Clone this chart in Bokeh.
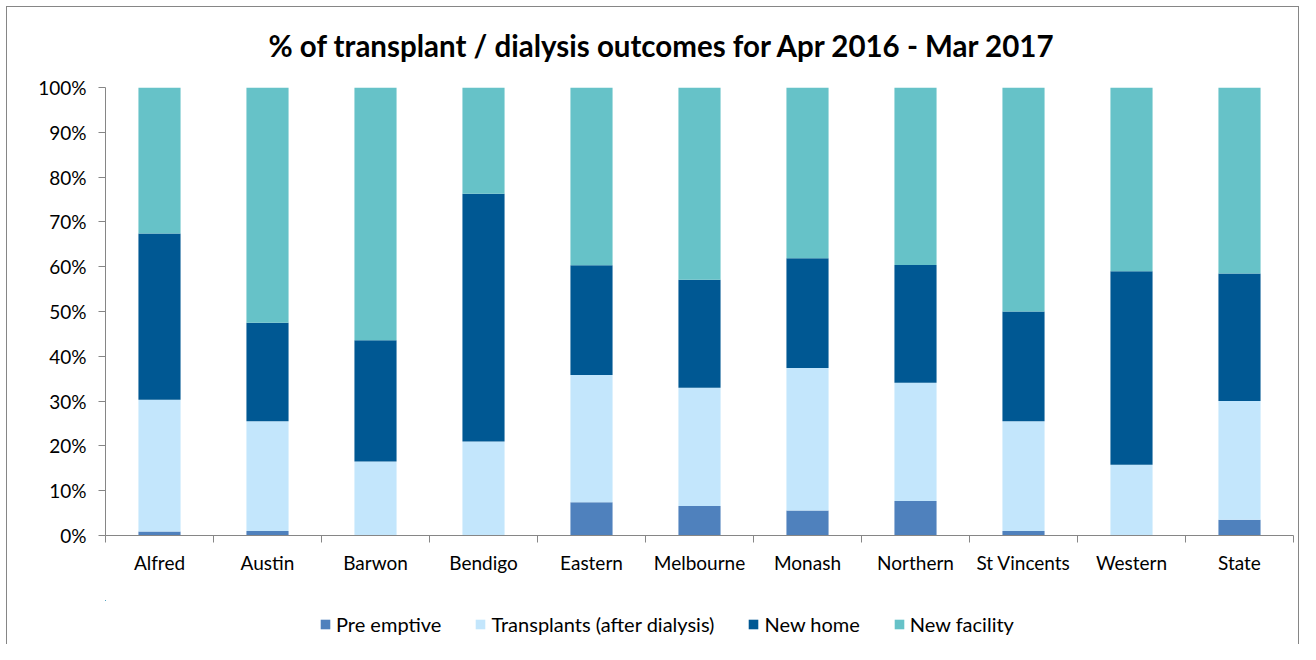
from bokeh.plotting import figure
from bokeh.layouts import column
from bokeh.models import (Range1d, FixedTicker, PrintfTickFormatter, Legend, LegendItem,
                          ColumnDataSource, LinearAxis)
from bokeh.embed import file_html
from bokeh.resources import INLINE

categories = ["Alfred", "Austin", "Barwon", "Bendigo", "Eastern", "Melbourne", "Monash",
              "Northern", "St Vincents", "Western", "State"]
series_names = ["Pre emptive", "Transplants (after dialysis)", "New home", "New facility"]
pre_emptive = [0.9, 1.0, 0.0, 0.0, 7.4, 6.6, 5.6, 7.7, 1.0, 0.0, 3.5]
transplants = [29.4, 24.5, 16.5, 21.0, 28.4, 26.4, 31.8, 26.4, 24.5, 15.8, 26.5]
new_home = [37.1, 22.0, 27.1, 55.3, 24.5, 24.1, 24.5, 26.3, 24.5, 43.2, 28.5]
new_facility = [32.6, 52.5, 56.4, 23.7, 39.7, 42.9, 38.1, 39.6, 50.0, 41.0, 41.5]
y_ticks = [0, 10, 20, 30, 40, 50, 60, 70, 80, 90, 100]
colors = ["#4F81BD", "#C3E6FC", "#005893", "#66C2C8"]

FONT = "Lato"
GRID = "#868686"

n = len(categories)
xs = [i + 0.5 for i in range(n)]
source = ColumnDataSource(dict(x=xs, pre=pre_emptive, trans=transplants,
                               home=new_home, fac=new_facility))
stack_cols = ["pre", "trans", "home", "fac"]

p = figure(width=1300, height=600, output_backend="svg", toolbar_location=None,
           x_range=Range1d(0, n), y_range=Range1d(0, 100),
           min_border_left=105, min_border_right=7, min_border_top=87, min_border_bottom=65,
           x_axis_type=None, y_axis_type=None,
           title="% of transplant / dialysis outcomes for Apr 2016 - Mar 2017")
p.border_fill_alpha = 0
p.outline_line_color = None
p.title.align = "left"
p.title.offset = 163
p.title.text_font = FONT
p.title.text_font_style = "bold"
p.title.text_font_size = "29.5px"
p.title.text_color = "#000000"
p.title.standoff = 50

p.vbar_stack(stack_cols, x="x", width=0.39, color=colors, line_color=None, source=source)

# y axis
yaxis = LinearAxis(ticker=FixedTicker(ticks=y_ticks),
                   formatter=PrintfTickFormatter(format="%d%%"))
yaxis.axis_line_color = GRID
yaxis.major_tick_line_color = GRID
yaxis.major_tick_out = 7
yaxis.major_tick_in = 0
yaxis.minor_tick_line_color = None
yaxis.major_label_text_font = FONT
yaxis.major_label_text_font_size = "19px"
yaxis.major_label_text_color = "#000000"
yaxis.major_label_standoff = 12
p.add_layout(yaxis, "left")

# x axis: labels at centers, ticks at category boundaries
xaxis = LinearAxis(ticker=FixedTicker(ticks=xs, minor_ticks=list(range(n + 1))))
xaxis.major_label_overrides = {x: c for x, c in zip(xs, categories)}
xaxis.axis_line_color = GRID
xaxis.major_tick_line_color = None
xaxis.major_tick_out = 0
xaxis.major_tick_in = 0
xaxis.minor_tick_line_color = GRID
xaxis.minor_tick_out = 7
xaxis.minor_tick_in = 0
xaxis.major_label_text_font = FONT
xaxis.major_label_text_font_size = "19px"
xaxis.major_label_text_color = "#000000"
xaxis.major_label_standoff = 8
p.add_layout(xaxis, "below")

p.ygrid.ticker = FixedTicker(ticks=y_ticks)
p.ygrid.grid_line_color = GRID
p.ygrid.grid_line_width = 1
p.xgrid.grid_line_color = None

# legend strip (separate figure below the chart; its key renderers are kept out of view)
pl = figure(width=1300, height=44, output_backend="svg", toolbar_location=None,
            x_range=Range1d(n + 10, n + 11), y_range=Range1d(-1000, -999), min_border=0,
            x_axis_type=None, y_axis_type=None)
pl.border_fill_alpha = 0
pl.background_fill_alpha = 0
pl.outline_line_color = None
pl.xgrid.grid_line_color = None
pl.ygrid.grid_line_color = None
key_renderers = pl.vbar_stack(stack_cols, x="x", width=0, color=colors,
                              line_color=None, source=source)
items = [LegendItem(label=name, renderers=[r]) for name, r in zip(series_names, key_renderers)]
legend = Legend(items=items, orientation="horizontal", location=(214, 8),
                border_line_color=None, background_fill_alpha=0,
                label_text_font=FONT, label_text_font_size="20px", label_text_color="#000000",
                glyph_width=12, glyph_height=12, label_standoff=5, spacing=33, padding=0,
                margin=0)
pl.add_layout(legend, "center")

line = "linear-gradient(#868686,#868686)"
layout = column(p, pl, spacing=0)
layout.styles = {"background": f"{line} 6px 6px / 1px 638px no-repeat, "
                               f"{line} 6px 6px / 1293px 1px no-repeat, "
                               f"{line} 1298px 6px / 1px 638px no-repeat, white"}

open("out.html", "w").write(file_html(layout, INLINE))
